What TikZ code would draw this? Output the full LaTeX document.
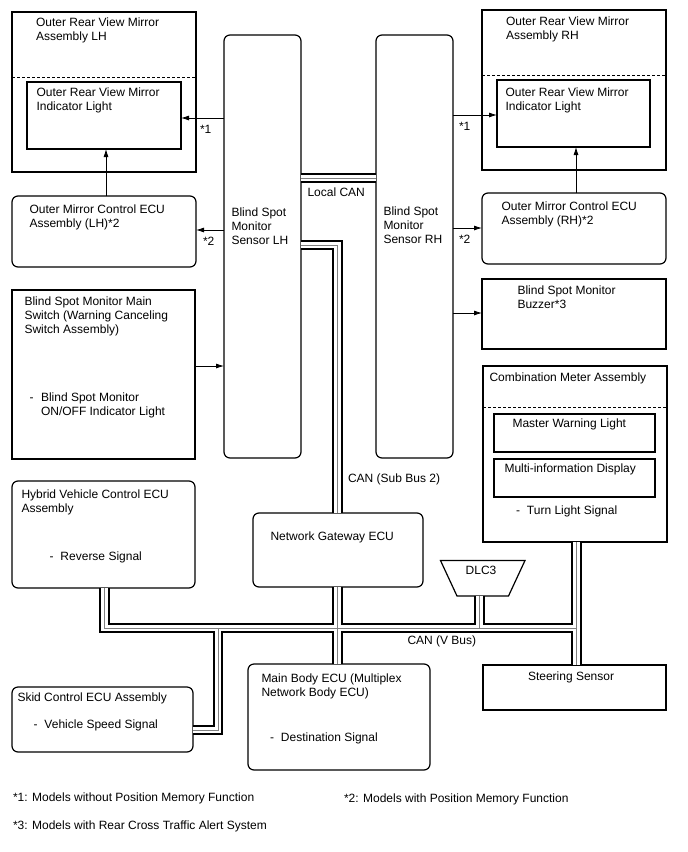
\documentclass[tikz,border=0pt]{standalone}
\usepackage{fontspec}
\setmainfont{Liberation Sans}
\usetikzlibrary{arrows.meta}
\newcommand{\mkbox}[6]{\node[#2, minimum width={#5-#3}, minimum height={#6-#4}] (#1) at ({(#3+#5)/2},{(#4+#6)/2}) {};}
\newcommand{\tl}[1]{\begin{tabular}[t]{@{}l@{}}#1\end{tabular}}
\newcommand{\canroutes}[1]{%
  \draw[#1] (bsL.east |- 0,178) -- (bsR.west |- 0,178);
  \draw[#1] (bsL.east |- 0,245) -| (gw.north -| 337.5,0);
  \draw[#1] (gw.south -| 337.5,0) -- (mb.north -| 337.5,0);
  \draw[#1] (hv.south -| busL) -- (busL) -- (busR);
  \draw[#1] (cmb.south -| busR) -- (ss.north -| busR);
  \draw[#1] (dlcb) -- (dlcb |- busL);
  \draw[#1] (skidj) -- (skidc) -- (skid.east |- skidc);
}
\begin{document}
\begin{tikzpicture}[x=1pt,y=-1pt,
  box/.style={draw, line width=1.2pt, inner sep=0pt, outer sep=0pt},
  rbox/.style={box, rounded corners=6pt},
  txt/.style={inner sep=0pt, outer sep=0pt, font=\fontsize{12}{14}\selectfont},
  sig/.style={line width=0.8pt, -{Latex[length=8pt,width=5pt]}},
  dsh/.style={line width=1pt, dash pattern=on 3pt off 2pt},
  canblack/.style={line width=10.5pt, black},
  canwhite/.style={line width=6.5pt, white},
  cangray/.style={line width=1pt, black!50},
]
\useasboundingbox (0,0) rectangle (688,852);

% boxes
\mkbox{mirL}{box}{12}{12}{196}{172}
\mkbox{mirLin}{box}{27}{82}{181}{149}
\mkbox{ecuL}{rbox}{12}{196}{196}{267}
\mkbox{bsL}{rbox}{224}{35}{301}{458}
\mkbox{bsR}{rbox}{376}{35}{453}{458}
\mkbox{mirR}{box}{482}{10}{666}{170}
\mkbox{mirRin}{box}{497}{80}{650}{147}
\mkbox{ecuR}{rbox}{482}{193}{666}{264}
\mkbox{buz}{box}{482}{279}{666}{349}
\mkbox{cmb}{box}{483}{366}{667}{542}
\mkbox{mwl}{box}{494}{414}{655}{452}
\mkbox{mid}{box}{494}{459}{655}{497}
\mkbox{sw}{box}{12}{290}{195}{459}
\mkbox{hv}{rbox}{12}{481}{195}{588}
\mkbox{gw}{rbox}{253}{513}{423}{587}
\mkbox{ss}{box}{483}{665}{666}{710}
\mkbox{skid}{rbox}{12}{687}{193}{752}
\mkbox{mb}{rbox}{248}{664}{430}{770}

% DLC3 trapezoid
\draw[line width=1.2pt, line join=miter] (440.5,560.5) -- (525,560.5) -- (508.5,596) -- (457,596) -- cycle;
\coordinate (dlcb) at (479.5,596);

% dashed separators
\draw[dsh] (mirL.west |- 0,77) -- (mirL.east |- 0,77);
\draw[dsh] (mirR.west |- 0,75) -- (mirR.east |- 0,75);
\draw[dsh] (cmb.west |- 0,407) -- (cmb.east |- 0,407);

% bus coordinates
\coordinate (busL) at (104.5,628);
\coordinate (busR) at (576.5,628);
\coordinate (skidj) at (218,628);
\coordinate (skidc) at (218,730);

% CAN twisted pairs
\canroutes{canblack}
\canroutes{canwhite}
\canroutes{cangray}

% signal lines
\draw[sig] (bsL.west |- 0,118) -- (mirLin.east |- 0,118);
\draw[sig] (bsL.west |- 0,230) -- (ecuL.east |- 0,230);
\draw[sig] (ecuL.north -| 106,0) -- (mirLin.south -| 106,0);
\draw[sig] (sw.east |- 0,366) -- (bsL.west |- 0,366);
\draw[sig] (bsR.east |- 0,115) -- (mirRin.west |- 0,115);
\draw[sig] (bsR.east |- 0,228) -- (ecuR.west |- 0,228);
\draw[sig] (ecuR.north -| 576,0) -- (mirRin.south -| 576,0);
\draw[sig] (bsR.east |- 0,313) -- (buz.west |- 0,313);

% texts
\node[txt, anchor=base west] (tmirL) at (36,26.5) {\tl{Outer Rear View Mirror\\Assembly LH}};
\node[txt, anchor=base west] (tmirLin) at (36.5,96.5) {\tl{Outer Rear View Mirror\\Indicator Light}};
\node[txt, anchor=base west] (tecuL) at (29.5,213) {\tl{Outer Mirror Control ECU\\Assembly (LH)*2}};
\node[txt, anchor=base west] (tbsL) at (231.5,216.5) {\tl{Blind Spot\\Monitor\\Sensor LH}};
\node[txt, anchor=base west] (tbsR) at (383.5,215) {\tl{Blind Spot\\Monitor\\Sensor RH}};
\node[txt, anchor=base west] (tmirR) at (506,25) {\tl{Outer Rear View Mirror\\Assembly RH}};
\node[txt, anchor=base west] (tmirRin) at (505.5,96) {\tl{Outer Rear View Mirror\\Indicator Light}};
\node[txt, anchor=base west] (tecuR) at (501.5,210) {\tl{Outer Mirror Control ECU\\Assembly (RH)*2}};
\node[txt, anchor=base west] (tbuz) at (517.5,294.5) {\tl{Blind Spot Monitor\\Buzzer*3}};
\node[txt, anchor=base west] (tcmb) at (489.5,381.5) {Combination Meter Assembly};
\node[txt, anchor=base west] (tmwl) at (512.5,427) {Master Warning Light};
\node[txt, anchor=base west] (tmid) at (504.5,472.5) {Multi-information Display};
\node[txt, anchor=base west] (tturn) at (516,514.5) {-\hspace{7pt}Turn Light Signal};
\node[txt, anchor=base west] (tsw) at (24.5,305.5) {\tl{Blind Spot Monitor Main\\Switch (Warning Canceling\\Switch Assembly)}};
\node[txt, anchor=base west] (tswd) at (29.5,401.5) {-};
\node[txt, anchor=base west] (tswi) at (41,401.5) {\tl{Blind Spot Monitor\\ON/OFF Indicator Light}};
\node[txt, anchor=base west] (thv) at (21.5,498) {\tl{Hybrid Vehicle Control ECU\\Assembly}};
\node[txt, anchor=base west] (thvs) at (49.5,560.5) {-\hspace{7pt}Reverse Signal};
\node[txt, anchor=base west] (tgw) at (270.5,540.5) {Network Gateway ECU};
\node[txt, anchor=base] (dlc) at (481,574) {DLC3};
\node[txt, anchor=base west] (tsub) at (348,482) {CAN (Sub Bus 2)};
\node[txt, anchor=base west] (tlocal) at (307.5,196) {Local CAN};
\node[txt, anchor=base west] (tvbus) at (407.5,644.5) {CAN (V Bus)};
\node[txt, anchor=base west] (tss) at (528,680) {Steering Sensor};
\node[txt, anchor=base west] (tskid) at (17.5,701) {Skid Control ECU Assembly};
\node[txt, anchor=base west] (tskids) at (33.5,728.5) {-\hspace{7pt}Vehicle Speed Signal};
\node[txt, anchor=base west] (tmb) at (261.5,682.5) {\tl{Main Body ECU (Multiplex\\Network Body ECU)}};
\node[txt, anchor=base west] (tmbs) at (270,741.5) {-\hspace{7pt}Destination Signal};

% star labels
\node[txt, anchor=base west] (s1L) at (200,133) {*1};
\node[txt, anchor=base west] (s2L) at (203,245) {*2};
\node[txt, anchor=base west] (s1R) at (459,130) {*1};
\node[txt, anchor=base west] (s2R) at (459,243) {*2};

% footnotes
\node[txt, anchor=base west] (f1) at (13,801) {*1: Models without Position Memory Function};
\node[txt, anchor=base west] (f2) at (344,802) {*2: Models with Position Memory Function};
\node[txt, anchor=base west] (f3) at (13,829) {*3: Models with Rear Cross Traffic Alert System};
\end{tikzpicture}
\end{document}
